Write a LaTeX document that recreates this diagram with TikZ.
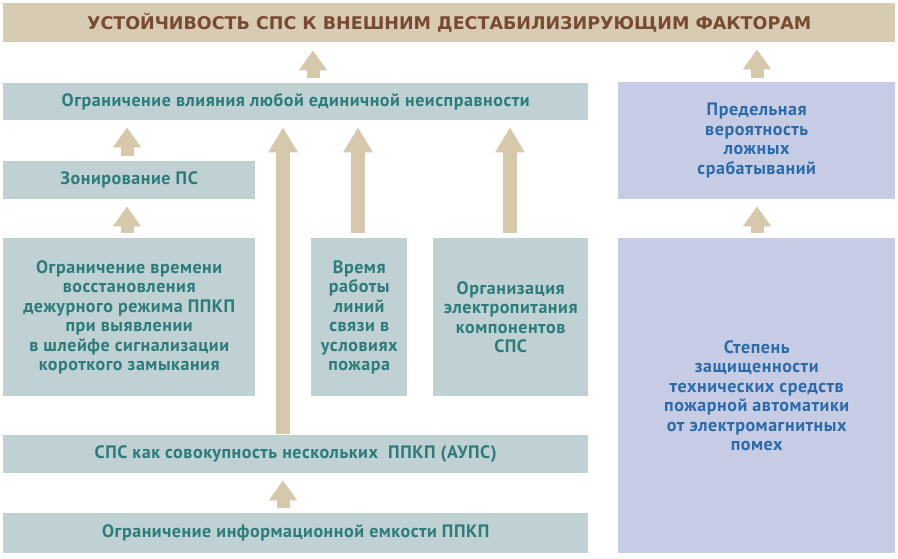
\documentclass[tikz,border=0pt]{standalone}
\usepackage{fontspec}
\setmainfont[LetterSpace=3]{PT Sans}
\newfontfamily\titlefont[FakeStretch=1.0]{DejaVu Sans}
\usetikzlibrary{arrows.meta}
\definecolor{tanfill}{HTML}{D7CCB1}
\definecolor{tantext}{HTML}{7A4934}
\definecolor{tealfill}{HTML}{BFD1D3}
\definecolor{tealtext}{HTML}{2C7C79}
\definecolor{bluefill}{HTML}{C5CCE4}
\definecolor{bluetext}{HTML}{2B6BA9}
\definecolor{arrowfill}{HTML}{D6C8AA}
\tikzset{
  basebox/.style={rectangle, anchor=north west, inner sep=2pt, align=center, font=\bfseries\fontsize{18}{19.5}\selectfont},
  tealbox/.style={basebox, fill=tealfill, text=tealtext},
  bluebox/.style={basebox, fill=bluefill, text=bluetext},
  titlebox/.style={rectangle, anchor=north west, fill=tanfill, text=tantext, font=\titlefont\bfseries\fontsize{17.5}{20}\selectfont},
  shortarr/.style={draw=arrowfill, line width=13pt, -{Triangle[width=27pt,length=20pt]}},
  longarr/.style={draw=arrowfill, line width=14pt, -{Triangle[width=28pt,length=25pt]}},
}
\begin{document}
\begin{tikzpicture}[x=1pt,y=-1pt]
\useasboundingbox[fill=white] (0,0) rectangle (898,558);
% boxes
\node[titlebox, minimum width=892pt, minimum height=39pt] (title) at (3,3) {УСТОЙЧИВОСТЬ СПС К ВНЕШНИМ ДЕСТАБИЛИЗИРУЮЩИМ ФАКТОРАМ};
\node[tealbox, minimum width=585pt, minimum height=37pt] (lim) at (3,83) {Ограничение влияния любой единичной неисправности};
\node[bluebox, minimum width=277pt, minimum height=117pt] (prob) at (618,82) {Предельная\\вероятность\\ложных\\срабатываний};
\node[tealbox, minimum width=252pt, minimum height=38pt] (zone) at (3,161) {Зонирование ПС};
\node[tealbox, minimum width=252pt, minimum height=158pt] (time) at (3,238) {Ограничение времени\\восстановления\\дежурного режима ППКП\\при выявлении\\в шлейфе сигнализации\\короткого замыкания};
\node[tealbox, minimum width=96pt, minimum height=158pt] (lines) at (311,238) {Время\\работы\\линий\\связи в\\условиях\\пожара};
\node[tealbox, minimum width=155pt, minimum height=158pt] (power) at (433,238) {Организация\\электропитания\\компонентов\\СПС};
\node[bluebox, minimum width=277pt, minimum height=315pt] (emc) at (618,238) {Степень\\защищенности\\технических средств\\пожарной автоматики\\от электромагнитных\\помех};
\node[tealbox, minimum width=585pt, minimum height=38pt] (aups) at (3,435) {СПС как совокупность нескольких~~ППКП~(АУПС)};
\node[tealbox, minimum width=585pt, minimum height=40pt] (cap) at (3,513) {Ограничение информационной емкости ППКП};
% x positions of arrows
\coordinate (xa) at (313,0);
\coordinate (xb) at (757,0);
\coordinate (xc) at (127,0);
\coordinate (xd) at (283,0);
\coordinate (xe) at (358,0);
\coordinate (xf) at (510,0);
% arrows
\draw[shortarr, shorten <=5pt, shorten >=8pt] (lim.north -| xa) -- (title.south -| xa);
\draw[shortarr, shorten <=4pt, shorten >=7pt] (prob.north -| xb) -- (title.south -| xb);
\draw[shortarr, shorten <=5pt, shorten >=7pt] (zone.north -| xc) -- (lim.south -| xc);
\draw[shortarr, shorten <=5pt, shorten >=7pt] (time.north -| xc) -- (zone.south -| xc);
\draw[shortarr, shorten <=5pt, shorten >=7pt] (emc.north -| xb) -- (prob.south -| xb);
\draw[shortarr, shorten <=5pt, shorten >=7pt] (cap.north -| xd) -- (aups.south -| xd);
\draw[longarr, shorten <=1pt, shorten >=7pt] (aups.north -| xd) -- (lim.south -| xd);
\draw[longarr, shorten <=5pt, shorten >=7pt] (lines.north -| xe) -- (lim.south -| xe);
\draw[longarr, shorten <=5pt, shorten >=7pt] (power.north -| xf) -- (lim.south -| xf);
\end{tikzpicture}
\end{document}
